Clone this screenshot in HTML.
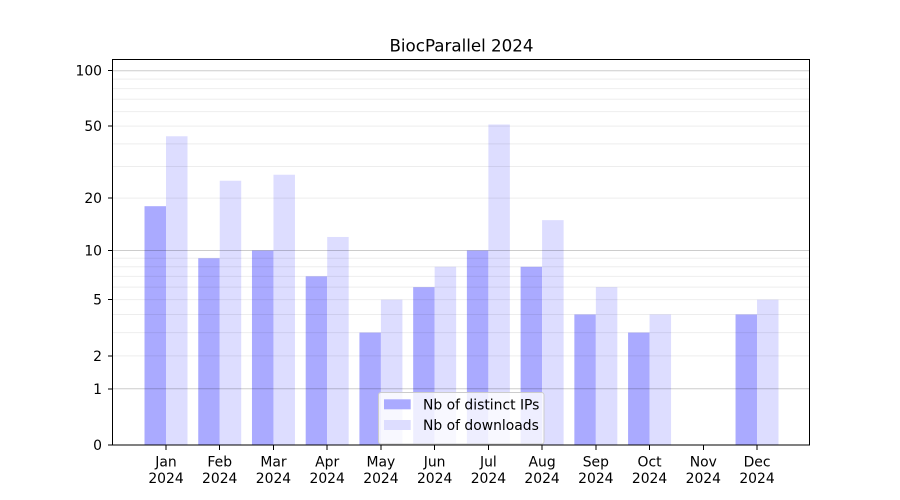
<!DOCTYPE html>
<html><head><meta charset="utf-8"><style>
html,body{margin:0;padding:0;background:#fff;}
svg{display:block;}
text{font-family:"DejaVu Sans","Liberation Sans",sans-serif;fill:#000;}
</style></head><body>
<svg width="900" height="500" viewBox="0 0 900 500" xmlns="http://www.w3.org/2000/svg">
<rect x="0" y="0" width="900" height="500" fill="#fff"/>
<!-- bars -->
<g fill="rgb(170,170,255)">
<rect x="144.51" y="206.2" width="21.49" height="238.8"/>
<rect x="198.24" y="258.25" width="21.49" height="186.75"/>
<rect x="251.97" y="250.5" width="21.49" height="194.5"/>
<rect x="305.70" y="276.35" width="21.49" height="168.65"/>
<rect x="359.43" y="332.57" width="21.49" height="112.43"/>
<rect x="413.16" y="287.18" width="21.49" height="157.82"/>
<rect x="466.89" y="250.5" width="21.49" height="194.5"/>
<rect x="520.62" y="266.8" width="21.49" height="178.2"/>
<rect x="574.35" y="314.47" width="21.49" height="130.53"/>
<rect x="628.08" y="332.57" width="21.49" height="112.43"/>
<rect x="735.54" y="314.47" width="21.49" height="130.53"/>
</g>
<g fill="rgb(221,221,255)">
<rect x="166" y="136.26" width="21.49" height="308.74"/>
<rect x="219.73" y="180.75" width="21.49" height="264.25"/>
<rect x="273.46" y="174.74" width="21.49" height="270.26"/>
<rect x="327.19" y="236.97" width="21.49" height="208.03"/>
<rect x="380.92" y="299.68" width="21.49" height="145.32"/>
<rect x="434.65" y="266.8" width="21.49" height="178.2"/>
<rect x="488.38" y="124.53" width="21.49" height="320.47"/>
<rect x="542.11" y="220.13" width="21.49" height="224.87"/>
<rect x="595.84" y="287.18" width="21.49" height="157.82"/>
<rect x="649.57" y="314.47" width="21.49" height="130.53"/>
<rect x="757.03" y="299.68" width="21.49" height="145.32"/>
</g>
<!-- minor grid -->
<g stroke="rgba(0,0,0,0.07)" stroke-width="1">
<line x1="113" x2="810" y1="355.9" y2="355.9"/>
<line x1="113" x2="810" y1="332.57" y2="332.57"/>
<line x1="113" x2="810" y1="314.47" y2="314.47"/>
<line x1="113" x2="810" y1="299.68" y2="299.68"/>
<line x1="113" x2="810" y1="287.18" y2="287.18"/>
<line x1="113" x2="810" y1="276.35" y2="276.35"/>
<line x1="113" x2="810" y1="266.8" y2="266.8"/>
<line x1="113" x2="810" y1="258.25" y2="258.25"/>
<line x1="113" x2="810" y1="198.08" y2="198.08"/>
<line x1="113" x2="810" y1="166.49" y2="166.49"/>
<line x1="113" x2="810" y1="143.82" y2="143.82"/>
<line x1="113" x2="810" y1="126.11" y2="126.11"/>
<line x1="113" x2="810" y1="111.59" y2="111.59"/>
<line x1="113" x2="810" y1="99.28" y2="99.28"/>
<line x1="113" x2="810" y1="88.59" y2="88.59"/>
<line x1="113" x2="810" y1="79.15" y2="79.15"/>
</g>
<!-- major grid -->
<g stroke="rgba(0,0,0,0.2)" stroke-width="1">
<line x1="113" x2="810" y1="388.78" y2="388.78"/>
<line x1="113" x2="810" y1="250.52" y2="250.52"/>
<line x1="113" x2="810" y1="70.69" y2="70.69"/>
</g>
<!-- legend -->
<rect x="378.5" y="392.5" width="165.5" height="51.5" rx="2.5" ry="2.5" fill="rgba(255,255,255,0.8)" stroke="#cccccc" stroke-width="1"/>
<rect x="384" y="399.3" width="26.7" height="10" fill="rgb(170,170,255)"/>
<rect x="384" y="420" width="26.7" height="10" fill="rgb(221,221,255)"/>
<text x="423" y="409.3" font-size="13.9">Nb of distinct IPs</text>
<text x="423" y="430" font-size="13.9">Nb of downloads</text>
<!-- axes spines -->
<rect x="112.5" y="59.5" width="697" height="385.5" fill="none" stroke="#000" stroke-width="1" shape-rendering="crispEdges"/>
<!-- y ticks -->
<g stroke="#000" stroke-width="1" shape-rendering="crispEdges">
<line x1="108" x2="112.5" y1="445" y2="445"/>
<line x1="108" x2="112.5" y1="388.78" y2="388.78"/>
<line x1="108" x2="112.5" y1="355.9" y2="355.9"/>
<line x1="108" x2="112.5" y1="299.68" y2="299.68"/>
<line x1="108" x2="112.5" y1="250.52" y2="250.52"/>
<line x1="108" x2="112.5" y1="198.08" y2="198.08"/>
<line x1="108" x2="112.5" y1="126.11" y2="126.11"/>
<line x1="108" x2="112.5" y1="70.69" y2="70.69"/>
</g>
<g font-size="13.9" text-anchor="end">
<text x="102" y="450">0</text>
<text x="102" y="393.8">1</text>
<text x="102" y="360.9">2</text>
<text x="102" y="304.7">5</text>
<text x="102" y="255.5">10</text>
<text x="102" y="203.1">20</text>
<text x="102" y="131.1">50</text>
<text x="102" y="75.7">100</text>
</g>
<!-- x ticks -->
<g stroke="#000" stroke-width="1" shape-rendering="crispEdges">
<line x1="166" x2="166" y1="445" y2="450"/>
<line x1="219.73" x2="219.73" y1="445" y2="450"/>
<line x1="273.46" x2="273.46" y1="445" y2="450"/>
<line x1="327.19" x2="327.19" y1="445" y2="450"/>
<line x1="380.92" x2="380.92" y1="445" y2="450"/>
<line x1="434.65" x2="434.65" y1="445" y2="450"/>
<line x1="488.38" x2="488.38" y1="445" y2="450"/>
<line x1="542.11" x2="542.11" y1="445" y2="450"/>
<line x1="595.84" x2="595.84" y1="445" y2="450"/>
<line x1="649.57" x2="649.57" y1="445" y2="450"/>
<line x1="703.30" x2="703.30" y1="445" y2="450"/>
<line x1="757.03" x2="757.03" y1="445" y2="450"/>
</g>
<g font-size="13.9" text-anchor="middle">
<text x="166" y="466.5">Jan</text><text x="166" y="483">2024</text>
<text x="219.73" y="466.5">Feb</text><text x="219.73" y="483">2024</text>
<text x="273.46" y="466.5">Mar</text><text x="273.46" y="483">2024</text>
<text x="327.19" y="466.5">Apr</text><text x="327.19" y="483">2024</text>
<text x="380.92" y="466.5">May</text><text x="380.92" y="483">2024</text>
<text x="434.65" y="466.5">Jun</text><text x="434.65" y="483">2024</text>
<text x="488.38" y="466.5">Jul</text><text x="488.38" y="483">2024</text>
<text x="542.11" y="466.5">Aug</text><text x="542.11" y="483">2024</text>
<text x="595.84" y="466.5">Sep</text><text x="595.84" y="483">2024</text>
<text x="649.57" y="466.5">Oct</text><text x="649.57" y="483">2024</text>
<text x="703.30" y="466.5">Nov</text><text x="703.30" y="483">2024</text>
<text x="757.03" y="466.5">Dec</text><text x="757.03" y="483">2024</text>
</g>
<!-- title -->
<text x="461.5" y="51.3" font-size="16.7" text-anchor="middle">BiocParallel 2024</text>
</svg>
</body></html>
